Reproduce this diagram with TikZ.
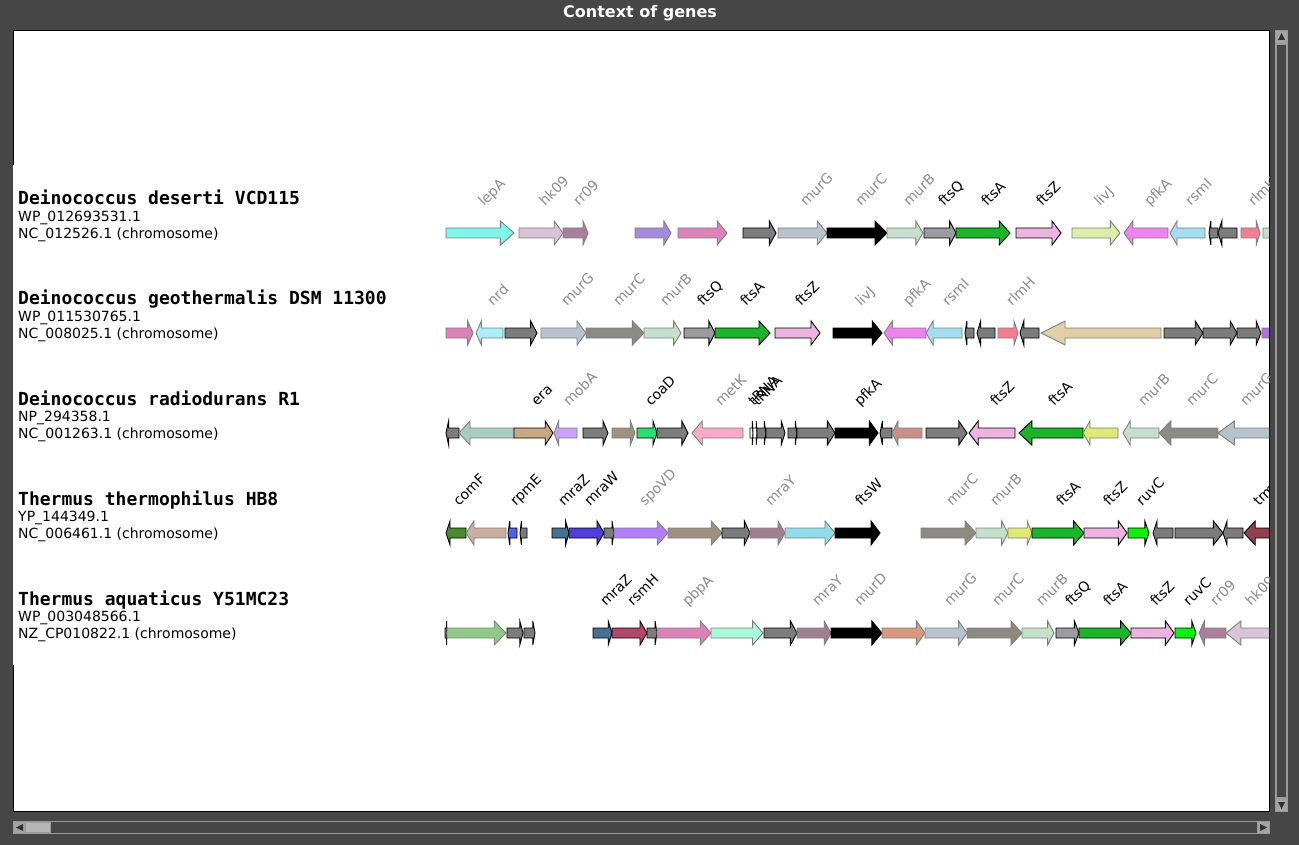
\documentclass[tikz,border=0pt]{standalone}
\usepackage{fontspec}
\setmainfont{DejaVu Sans}
\setmonofont{DejaVu Sans Mono}

\definecolor{bg}{HTML}{464646}
\definecolor{gy}{HTML}{7F7F7F}
\definecolor{bk}{HTML}{000000}
\definecolor{lgy}{HTML}{8C8C8C}
\definecolor{barline}{HTML}{9A9A9A}
\definecolor{barbtn}{HTML}{A4A4A4}
\definecolor{cGray}{HTML}{7C7C7C}
\definecolor{cLepA}{HTML}{80F5EB}
\definecolor{cHk}{HTML}{D9C4D7}
\definecolor{cRr}{HTML}{A8809D}
\definecolor{cPurp}{HTML}{A48BD9}
\definecolor{cPinkM}{HTML}{DB83B9}
\definecolor{cMurG}{HTML}{B8C2CD}
\definecolor{cMurC}{HTML}{8C8A83}
\definecolor{cMurB}{HTML}{C4E0CC}
\definecolor{cFtsQ}{HTML}{9C9CA0}
\definecolor{cFtsA}{HTML}{1CB52A}
\definecolor{cFtsZ}{HTML}{EBB3E0}
\definecolor{cLivJ}{HTML}{DCEDAA}
\definecolor{cPfkA}{HTML}{EE82EE}
\definecolor{cRsmI}{HTML}{A2DDF0}
\definecolor{cRlmH}{HTML}{F08090}
\definecolor{cNrd}{HTML}{AAEEF8}
\definecolor{cTan}{HTML}{E0D0A8}
\definecolor{cOrchid}{HTML}{B070E0}
\definecolor{cSea}{HTML}{A8CCC0}
\definecolor{cEra}{HTML}{C8A882}
\definecolor{cMobA}{HTML}{C8A0F8}
\definecolor{cBrown}{HTML}{A09080}
\definecolor{cCoaD}{HTML}{28E070}
\definecolor{cMetK}{HTML}{F8A8C8}
\definecolor{cRosy}{HTML}{C89088}
\definecolor{cYel}{HTML}{E0E878}
\definecolor{cComF}{HTML}{4A8A30}
\definecolor{cTanC}{HTML}{C8B0A0}
\definecolor{cRpmE}{HTML}{5060F0}
\definecolor{cMraZ}{HTML}{457090}
\definecolor{cMraW}{HTML}{5040D8}
\definecolor{cSpoVD}{HTML}{B080F8}
\definecolor{cMraY}{HTML}{A08090}
\definecolor{cCyanL}{HTML}{90DCE8}
\definecolor{cRuvC}{HTML}{10F010}
\definecolor{cMaroon}{HTML}{904050}
\definecolor{cGreenL}{HTML}{90C888}
\definecolor{cRsmH}{HTML}{B04868}
\definecolor{cMint}{HTML}{A8F8D8}
\definecolor{cMurD}{HTML}{D89880}

\tikzset{
  genebox/.style={line width=0.9pt, line join=miter},
  glab/.style={rotate=45, anchor=base west, inner sep=0pt, font=\fontsize{14}{14}\selectfont},
  spname/.style={anchor=base west, inner sep=0pt, font=\fontsize{18}{18}\selectfont\ttfamily\bfseries},
  spinfo/.style={anchor=base west, inner sep=0pt, font=\fontsize{14}{14}\selectfont},
  sbar/.style={fill=bg, draw=barline, line width=0.8pt},
  sbtn/.style={fill=barbtn, draw=barline, line width=0.8pt},
}

\newcommand{\gene}[4]{%
  \pgfmathsetmacro{\genehead}{0.2*(#2-#1)}%
  \filldraw[genebox,fill=#3,draw=#4] (#1,-5) -- ({#2-\genehead},-5) -- ({#2-\genehead},-12)
    -- (#2,0) -- ({#2-\genehead},12) -- ({#2-\genehead},5) -- (#1,5) -- cycle;}

\begin{document}
\begin{tikzpicture}[x=1pt,y=-1pt]
\useasboundingbox (0,0) rectangle (1299,845);
\fill[bg] (0,0) rectangle (1299,845);
\node[text=white, font=\fontsize{16}{16}\selectfont\bfseries] (title) at (640,13) {Context of genes};

\filldraw[fill=white, draw=black, line width=1pt] (13.5,30.5) rectangle (1269.5,811.5);
\fill[white] (12.9,165) rectangle (20,665);

\foreach \r/\n/\p/\c in {0/Deinococcus deserti VCD115/WP\_012693531.1/NC\_012526.1 (chromosome),
    1/Deinococcus geothermalis DSM 11300/WP\_011530765.1/NC\_008025.1 (chromosome),
    2/Deinococcus radiodurans R1/NP\_294358.1/NC\_001263.1 (chromosome),
    3/Thermus thermophilus HB8/YP\_144349.1/NC\_006461.1 (chromosome),
    4/Thermus aquaticus Y51MC23/WP\_003048566.1/NZ\_CP010822.1 (chromosome)} {
  \node[spname] (sp\r) at (18,205+100*\r) {\n};
  \node[spinfo] (prot\r) at (18,221.6+100*\r) {\p};
  \node[spinfo] (acc\r) at (18,238.3+100*\r) {\c};
}

\begin{scope}
\clip (14,31) rectangle (1269,811);

\begin{scope}[shift={(0,233)}]
  \foreach \a/\b/\f/\d in {446/514/cLepA/gy, 519/563/cHk/gy, 563/588/cRr/gy, 635/671/cPurp/gy,
      678/727/cPinkM/gy, 743/776/cGray/bk, 778/827/cMurG/gy, 827/887/black/bk, 887/923/cMurB/gy,
      924/956/cFtsQ/bk, 956/1010/cFtsA/bk, 1016/1061/cFtsZ/bk, 1072/1120/cLivJ/gy,
      1168/1124/cPfkA/gy, 1205/1170/cRsmI/gy, 1218/1209/cGray/bk, 1237/1218/cGray/bk,
      1241/1260/cRlmH/gy, 1263/1300/cMurB/gy}
    \gene{\a}{\b}{\f}{\d};
  \foreach \x/\t/\c [count=\i] in {484/lepA/lgy, 545/hk09/lgy, 579/rr09/lgy, 806/murG/lgy,
      861/murC/lgy, 909/murB/lgy, 944/ftsQ/bk, 987/ftsA/bk, 1042/ftsZ/bk, 1100/livJ/lgy,
      1150/pfkA/lgy, 1191/rsmI/lgy, 1254/rlmH/lgy}
    \node[glab,text=\c] (a\i) at (\x,-26) {\t};
\end{scope}

\begin{scope}[shift={(0,333)}]
  \foreach \a/\b/\f/\d in {446/473/cPinkM/gy, 503/476/cNrd/gy, 505/537/cGray/bk, 541/586/cMurG/gy,
      586/644/cMurC/gy, 644/681/cMurB/gy, 684/715/cFtsQ/bk, 715/770/cFtsA/bk, 775/820/cFtsZ/bk,
      833/882/black/bk, 926/884/cPfkA/gy, 962/926/cRsmI/gy, 974/965/cGray/bk, 995/977/cGray/bk,
      998/1018/cRlmH/gy, 1039/1020/cGray/bk, 1161/1041/cTan/gy, 1164/1203/cGray/bk,
      1203/1237/cGray/bk, 1237/1261/cGray/bk, 1262/1300/cOrchid/gy}
    \gene{\a}{\b}{\f}{\d};
  \foreach \x/\t/\c [count=\i] in {493/nrd/lgy, 567/murG/lgy, 619/murC/lgy, 666/murB/lgy,
      703/ftsQ/bk, 746/ftsA/bk, 801/ftsZ/bk, 861/livJ/lgy, 909/pfkA/lgy, 948/rsmI/lgy,
      1012/rlmH/lgy}
    \node[glab,text=\c] (b\i) at (\x,-26) {\t};
\end{scope}

\begin{scope}[shift={(0,433)}]
  \foreach \a/\b/\f/\d in {459/446/cGray/bk, 514/459/cSea/gy, 514/553/cEra/bk, 577/554/cMobA/gy,
      583/608/cGray/bk, 612/635/cBrown/gy, 637/657/cCoaD/bk, 657/688/cGray/bk, 743/692/cMetK/gy,
      750/753/white/bk, 753/757/white/bk, 757/766/cGray/bk, 766/785/cGray/bk, 788/797/cGray/bk,
      797/835/cGray/bk, 835/878/black/bk, 892/880/cGray/bk, 922/892/cRosy/gy, 926/967/cGray/bk,
      1015/969/cFtsZ/bk, 1083/1019/cFtsA/bk, 1118/1083/cYel/gy, 1159/1123/cMurB/gy,
      1218/1159/cMurC/gy, 1300/1218/cMurG/gy}
    \gene{\a}{\b}{\f}{\d};
  \foreach \x/\t/\c [count=\i] in {537/era/bk, 569/mobA/lgy, 651/coaD/bk, 721/metK/lgy,
      754/tRNA/bk, 758/tRNA/bk, 860/pfkA/bk, 996/ftsZ/bk, 1054/ftsA/bk, 1144/murB/lgy,
      1192/murC/lgy, 1246/murG/lgy}
    \node[glab,text=\c] (c\i) at (\x,-26) {\t};
\end{scope}

\begin{scope}[shift={(0,533)}]
  \foreach \a/\b/\f/\d in {466/446/cComF/bk, 506/466/cTanC/gy, 517/508/cRpmE/bk, 527/520/cGray/bk,
      552/569/cMraZ/bk, 569/604/cMraW/bk, 604/614/cGray/bk, 614/668/cSpoVD/gy, 668/722/cBrown/gy,
      722/750/cGray/bk, 750/785/cMraY/gy, 785/835/cCyanL/gy, 835/880/black/bk, 921/976/cMurC/gy,
      976/1008/cMurB/gy, 1008/1032/cYel/gy, 1032/1084/cFtsA/bk, 1084/1127/cFtsZ/bk,
      1128/1149/cRuvC/bk, 1173/1153/cGray/bk, 1175/1223/cGray/bk, 1243/1223/cGray/bk,
      1300/1244/cMaroon/bk}
    \gene{\a}{\b}{\f}{\d};
  \foreach \x/\t/\c [count=\i] in {459/comF/bk, 516/rpmE/bk, 564/mraZ/bk, 590/mraW/bk,
      645/spoVD/lgy, 771/mraY/lgy, 861/ftsW/bk, 952/murC/lgy, 996/murB/lgy, 1062/ftsA/bk,
      1109/ftsZ/bk, 1142/ruvC/bk, 1259/trmD/bk}
    \node[glab,text=\c] (d\i) at (\x,-26) {\t};
\end{scope}

\begin{scope}[shift={(0,633)}]
  \foreach \a/\b/\f/\d in {445/447/cGray/bk, 447/506/cGreenL/gy, 507/523/cGray/bk, 524/535/cGray/bk,
      593/612/cMraZ/bk, 612/647/cRsmH/bk, 647/657/cGray/bk, 657/711/cPinkM/gy, 711/763/cMint/gy,
      764/797/cGray/bk, 797/831/cMraY/gy, 831/882/black/bk, 882/925/cMurD/gy, 925/967/cMurG/gy,
      967/1022/cMurC/gy, 1022/1054/cMurB/gy, 1056/1079/cFtsQ/bk, 1079/1131/cFtsA/bk,
      1131/1174/cFtsZ/bk, 1175/1196/cRuvC/bk, 1226/1199/cRr/gy, 1300/1226/cHk/gy}
    \gene{\a}{\b}{\f}{\d};
  \foreach \x/\t/\c [count=\i] in {606/mraZ/bk, 633/rsmH/bk, 688/pbpA/lgy, 818/mraY/lgy,
      860/murD/lgy, 950/murG/lgy, 998/murC/lgy, 1042/murB/lgy, 1071/ftsQ/bk, 1109/ftsA/bk,
      1156/ftsZ/bk, 1189/ruvC/bk, 1216/rr09/lgy, 1251/hk09/lgy}
    \node[glab,text=\c] (e\i) at (\x,-26) {\t};
\end{scope}
\end{scope}

\draw[sbar] (1275.5,30.5) rectangle (1287.5,811.5);
\draw[sbar] (1276.8,44) rectangle (1286.2,797.5);
\draw[sbtn] (1275.5,30.5) rectangle (1287.5,43);
\draw[sbtn] (1275.5,798.5) rectangle (1287.5,811.5);
\fill[bg!70!black] (1281.5,33) -- (1278,40) -- (1285,40) -- cycle;
\fill[bg!70!black] (1281.5,809) -- (1278,802) -- (1285,802) -- cycle;

\draw[sbar] (13.5,821.5) rectangle (1269.5,833.5);
\draw[sbtn] (13.5,821.5) rectangle (25.5,833.5);
\draw[sbtn] (1257.5,821.5) rectangle (1269.5,833.5);
\filldraw[fill=barbtn!80!white, draw=barline] (25.5,822.5) rectangle (50,832.5);
\fill[bg!70!black] (16,827.5) -- (23,824) -- (23,831) -- cycle;
\fill[bg!70!black] (1267,827.5) -- (1260,824) -- (1260,831) -- cycle;
\end{tikzpicture}
\end{document}
